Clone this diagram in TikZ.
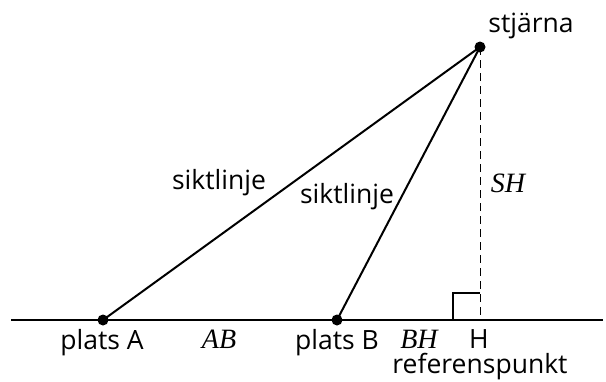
\documentclass[tikz,border=0pt]{standalone}
\usepackage{fontspec}
\setmainfont{Open Sans}
\newfontfamily\mfont{Liberation Serif}
\begin{document}
\begin{tikzpicture}[x=1pt,y=-1pt,
  lbl/.style={anchor=base,inner sep=0pt,font=\fontsize{26.5}{30}\selectfont},
  mlbl/.style={anchor=base,inner sep=0pt,font=\fontsize{28}{32}\selectfont\mfont\itshape},
  ray/.style={line width=2pt},
  dot/.style={circle,fill=black,inner sep=0pt,minimum size=11pt}]
\useasboundingbox (0,0) rectangle (606,381);
% points
\coordinate (L) at (11,320);
\coordinate (R) at (603,320);
\node[dot] (A) at (103,320) {};
\node[dot] (B) at (337,320) {};
\node[dot] (S) at (480,47) {};
\coordinate (H) at (480,320);
\coordinate (Q1) at (453,320);
\coordinate (Q2) at (453,293);
\coordinate (Q3) at (480,293);
% lines
\draw[ray] (L) -- (R);
\draw[ray] (A.center) -- (S.center);
\draw[ray] (B.center) -- (S.center);
\draw[line width=1pt,dash pattern=on 8pt off 5pt] (S.center) -- (H);
\draw[ray] (Q1) -- (Q2) -- (Q3);
% labels
\node[lbl] (ls) at (531,32) {stjärna};
\node[lbl] (la) at (102,349) {plats A};
\node[lbl] (lb) at (337,349) {plats B};
\node[lbl] (lh) at (479,348) {H};
\node[lbl] (lr) at (480,373) {referenspunkt};
\node[lbl] (l1) at (219,189) {siktlinje};
\node[lbl] (l2) at (347,203) {siktlinje};
\node[mlbl] (ab) at (219,348) {AB};
\node[mlbl] (bh) at (419,348) {BH};
\node[mlbl] (sh) at (508,192) {SH};
\end{tikzpicture}
\end{document}
